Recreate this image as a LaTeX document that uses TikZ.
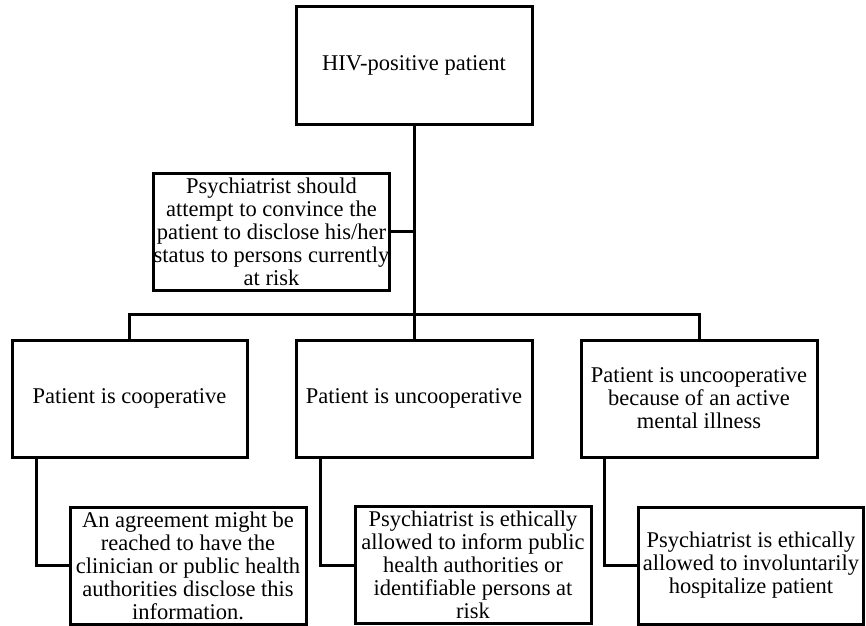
\documentclass[tikz,border=0pt]{standalone}
\usepackage{fontspec}
\setmainfont{Liberation Serif}
\begin{document}
\begin{tikzpicture}[x=1pt,y=-1pt,
  box/.style={draw=black,line width=3pt,fill=white,inner sep=0pt,align=center,
    minimum width=236pt,minimum height=117pt,font=\fontsize{22.5}{23}\selectfont},
  conn/.style={draw=black,line width=3pt}]
\useasboundingbox[fill=white] (0,0) rectangle (866,625);
\node[box,minimum height=118pt] (top) at (414,65) {HIV-positive patient};
\node[box,minimum width=235pt] (psy) at (271.5,231.5) {Psychiatrist should\\attempt to convince the\\patient to disclose his/her\\status to persons currently\\at risk};
\node[box,minimum width=235pt] (b1) at (129.5,398.5) {Patient is cooperative};
\node[box] (b2) at (414,398.5) {Patient is uncooperative};
\node[box] (b3) at (699,398.5) {Patient is uncooperative\\because of an active\\mental illness};
\node[box] (c1) at (188,565.5) {An agreement might be\\reached to have the\\clinician or public health\\authorities disclose this\\information.};
\node[box] (c2) at (473,565) {Psychiatrist is ethically\\allowed to inform public\\health authorities or\\identifiable persons at\\risk};
\node[box,minimum width=225pt] (c3) at (751,565.5) {Psychiatrist is ethically\\allowed to involuntarily\\hospitalize patient};
\coordinate (bar) at (414,314);
\draw[conn] (top.south) -- (b2.north);
\draw[conn] (psy.east) -- (psy.east -| top.south);
\draw[conn] (b1.north) |- (bar) -| (b3.north);
\draw[conn] ([xshift=-93.5pt]b1.south) |- (c1.west);
\draw[conn] ([xshift=-94pt]b2.south) |- (c2.west);
\draw[conn] ([xshift=-95pt]b3.south) |- (c3.west);
\end{tikzpicture}
\end{document}
